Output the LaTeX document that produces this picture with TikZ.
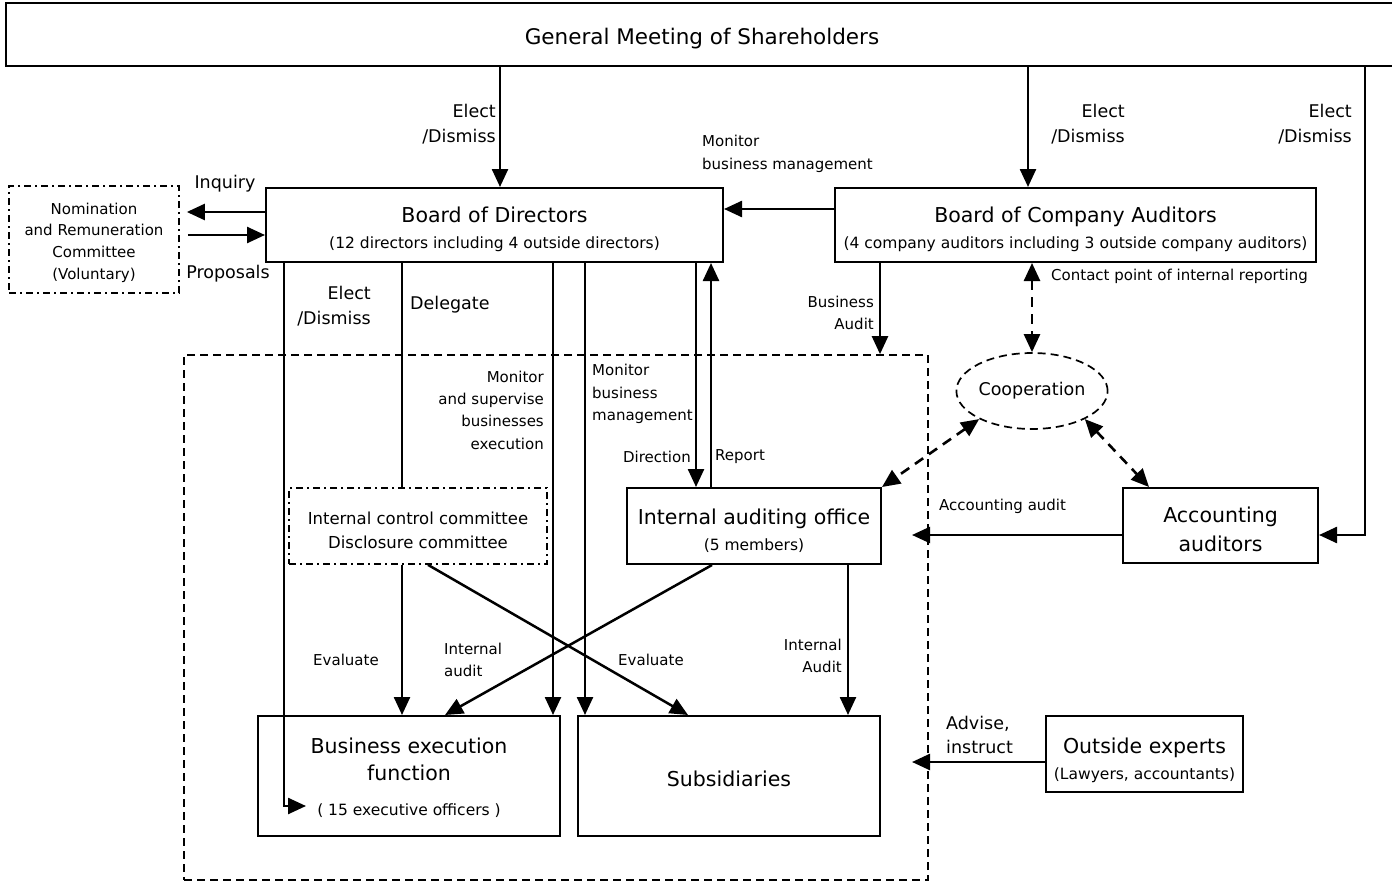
\documentclass[tikz,border=0pt]{standalone}
\usepackage{fontspec}
\setmainfont{DejaVu Sans}
\usetikzlibrary{arrows.meta,shapes.geometric,calc}
\newcommand{\fgm}{\fontsize{21.5pt}{28pt}\selectfont}
\newcommand{\ftitle}{\fontsize{20.5pt}{27pt}\selectfont}
\newcommand{\fsub}{\fontsize{15.5pt}{26pt}\selectfont}
\newcommand{\flab}{\fontsize{17.5pt}{25pt}\selectfont}
\newcommand{\fsm}{\fontsize{15pt}{22.5pt}\selectfont}
\newcommand{\fico}{\fontsize{16.5pt}{24pt}\selectfont}
\begin{document}
\begin{tikzpicture}[x=1pt,y=-1pt,
  box/.style={draw, line width=2pt, inner sep=0pt},
  ddbox/.style={draw, line width=1.7pt, dash pattern=on 7pt off 4pt on 2pt off 4pt, inner sep=0pt},
  txt/.style={inner sep=0pt, align=center},
  conn/.style={line width=2.5pt, -{Triangle[length=18pt,width=16pt]}},
  plain/.style={line width=2.5pt},
  dconn/.style={line width=2.6pt, dash pattern=on 10pt off 7pt, {Triangle[length=18pt,width=16pt]}-{Triangle[length=18pt,width=16pt]}},
  lab/.style={inner sep=0pt, font=\flab},
  sml/.style={inner sep=0pt, font=\fsm},
]
\useasboundingbox (0,0) rectangle (1392,883);

% helper coordinates
\foreach \xx in {284,402,428,445,500,553,585,688,696,711,712,848,880,912,1028,1365}{
  \coordinate (x\xx) at (\xx,0);
}
\foreach \yy in {209,212,235,535,762}{
  \coordinate (y\yy) at (0,\yy);
}

% group region
\node[draw, line width=1.7pt, dash pattern=on 8pt off 5pt, minimum width=744pt, minimum height=525pt, inner sep=0pt] (grp) at (556,617.5) {};

% boxes
\node[box, minimum width=1392pt, minimum height=63pt] (gm) at (702,34.5) {};
\node[txt, font=\fgm] (gmt) at ([yshift=-4pt]gm.center) {General Meeting of Shareholders};

\node[box, minimum width=457pt, minimum height=74pt] (bod) at (494.5,225) {};
\node[txt, font=\fsub] (bodt) at ([yshift=-4pt]bod.center)
  {{\ftitle Board of Directors}\\{\fsub (12 directors including 4 outside directors)}};

\node[box, minimum width=481pt, minimum height=74pt] (bca) at (1075.5,225) {};
\node[txt, font=\fsub] (bcat) at ([yshift=-4pt]bca.center)
  {{\ftitle Board of Company Auditors}\\{\fsub (4 company auditors including 3 outside company auditors)}};

\node[ddbox, minimum width=170pt, minimum height=107pt] (nom) at (94,239.5) {};
\node[txt, font=\fontsize{15pt}{21.7pt}\selectfont] (nomt) at ([yshift=-3pt]nom.center)
  {Nomination\\and Remuneration\\Committee\\(Voluntary)};

\node[ddbox, minimum width=258pt, minimum height=76pt] (ico) at (418,526) {};
\node[txt, font=\fico] (icot) at ([yshift=-4pt]ico.center)
  {Internal control committee\\Disclosure committee};

\node[box, minimum width=254pt, minimum height=76pt] (iao) at (754,526) {};
\node[txt, font=\fsub] (iaot) at ([yshift=-5pt]iao.center)
  {{\ftitle Internal auditing office}\\{\fsub (5 members)}};

\node[box, minimum width=195pt, minimum height=75pt] (acc) at (1220.5,525.5) {};
\node[txt, font=\fontsize{20.5pt}{29pt}\selectfont] (acct) at ([yshift=-4pt]acc.center)
  {Accounting\\auditors};

\node[ellipse, draw, line width=1.7pt, dash pattern=on 8pt off 5pt, minimum width=122pt, minimum height=76pt, inner sep=0pt, font=\flab] (coop) at (1032,391) {Cooperation};

\node[box, minimum width=302pt, minimum height=120pt] (bef) at (409,776) {};
\node[txt, font=\ftitle] (beft) at ([yshift=-2pt]bef.center)
  {Business execution\\function\\[8pt]{\fsub ( 15 executive officers )}};

\node[box, minimum width=302pt, minimum height=120pt] (sub) at (729,776) {};
\node[txt, font=\ftitle] (subt) at ([yshift=-3pt]sub.center) {Subsidiaries};

\node[box, minimum width=197pt, minimum height=76pt] (oe) at (1144.5,754) {};
\node[txt, font=\fsub] (oet) at ([yshift=-6pt]oe.center)
  {{\ftitle Outside experts}\\{\fsub (Lawyers, accountants)}};

\coordinate (eo) at (306,806);
\coordinate (acctop) at ([xshift=27pt]acc.north west);

% connectors
\draw[conn] (gm.south -| x500) -- (bod.north -| x500);
\draw[conn] (gm.south -| x1028) -- (bca.north -| x1028);
\draw[conn] (gm.south -| x1365) |- (acc.east |- y535);
\draw[conn] (bca.west |- y209) -- (bod.east |- y209);
\draw[conn, shorten >=7pt] (bod.west |- y212) -- (nom.east |- y212);
\draw[conn, shorten <=8pt] (nom.east |- y235) -- (bod.west |- y235);
\draw[conn] (bod.south -| x284) |- (eo);
\draw[plain] (bod.south -| x402) -- (ico.north -| x402);
\draw[conn] (bod.south -| x553) -- (bef.north -| x553);
\draw[conn] (bod.south -| x585) -- (sub.north -| x585);
\draw[conn] (bod.south -| x696) -- (iao.north -| x696);
\draw[conn] (iao.north -| x711) -- (bod.south -| x711);
\draw[conn] (bca.south -| x880) -- (grp.north -| x880);
\draw[dconn] (bca.south -| coop.north) -- (coop.north);
\draw[dconn] (coop.208) -- (iao.north east);
\draw[dconn] (coop.332) -- (acctop);
\draw[conn] (acc.west |- y535) -- (x912 |- y535);
\draw[conn] (ico.south -| x402) -- (bef.north -| x402);
\draw[conn] (ico.south -| x428) -- (sub.north -| x688);
\draw[conn] (iao.south -| x712) -- (bef.north -| x445);
\draw[conn] (iao.south -| x848) -- (sub.north -| x848);
\draw[conn] (oe.west |- y762) -- (x912 |- y762);

% labels
\node[lab, anchor=east, align=right] (l1) at (496,124) {Elect\\/Dismiss};
\node[lab, anchor=east, align=right] (l2) at (1125,124) {Elect\\/Dismiss};
\node[lab, anchor=east, align=right] (l3) at (1352,124) {Elect\\/Dismiss};
\node[sml, anchor=west, align=left] (l4) at (702,154) {Monitor\\business management};
\node[lab] (l5) at (225,184) {Inquiry};
\node[lab] (l6) at (228,274) {Proposals};
\node[lab, anchor=east, align=right] (l7) at (371,306) {Elect\\/Dismiss};
\node[lab, anchor=west] (l8) at (410,305) {Delegate};
\node[sml, anchor=east, align=right] (l9) at (874,313) {Business\\Audit};
\node[sml, anchor=west] (l10) at (1051,276) {Contact point of internal reporting};
\node[sml, anchor=east, align=right, font=\fontsize{15pt}{22.3pt}\selectfont] (l11) at (544,410) {Monitor\\and supervise\\businesses\\execution};
\node[sml, anchor=west, align=left] (l12) at (592,394) {Monitor\\business\\management};
\node[sml, anchor=east] (l13) at (691,457) {Direction};
\node[sml, anchor=west] (l14) at (715,457) {Report};
\node[sml, anchor=west] (l15) at (939,506) {Accounting audit};
\node[sml] (l16) at (346,660) {Evaluate};
\node[sml] (l17) at (651,660) {Evaluate};
\node[sml, anchor=west, align=left] (l18) at (444,660) {Internal\\audit};
\node[sml, anchor=east, align=right] (l19) at (842,656) {Internal\\Audit};
\node[lab, anchor=west, align=left, font=\fontsize{17.5pt}{24pt}\selectfont] (l20) at (946,735) {Advise,\\instruct};
\end{tikzpicture}
\end{document}
